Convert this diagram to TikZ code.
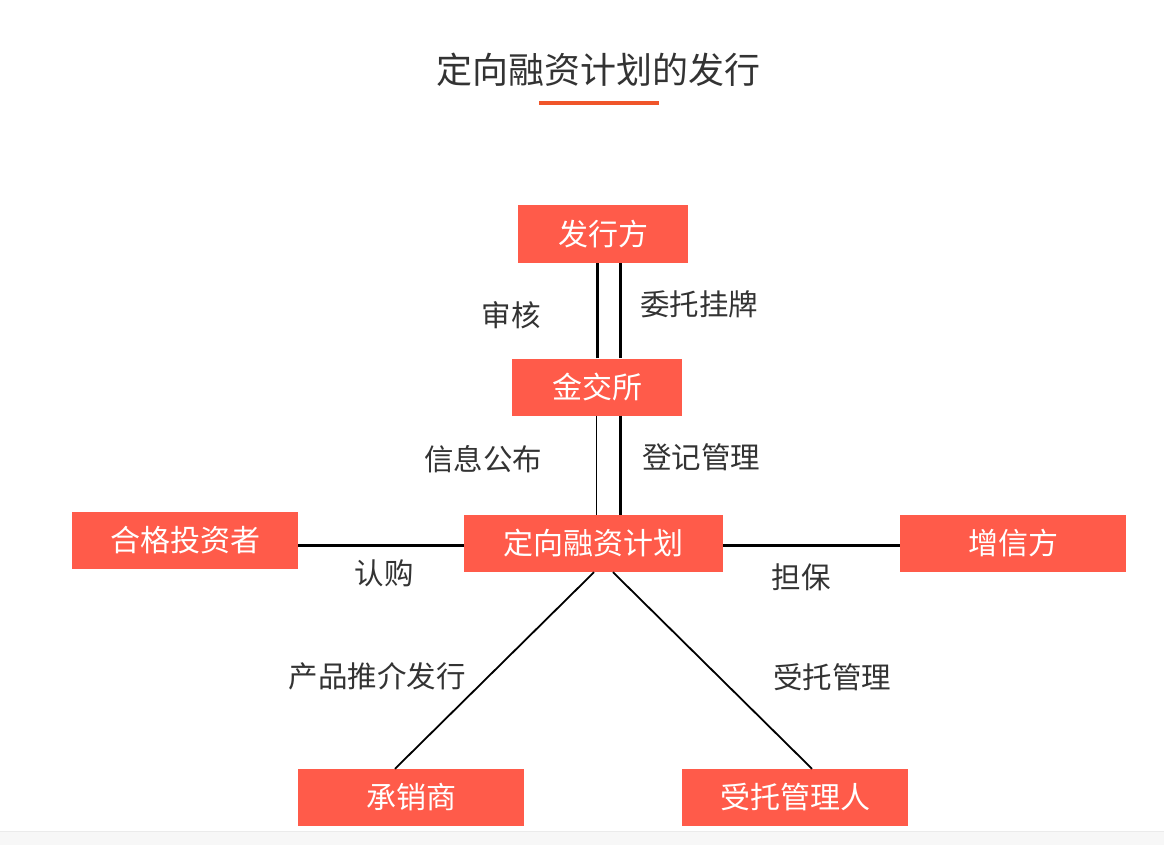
\documentclass[tikz,border=0pt]{standalone}
\usepackage{fontspec}
\usepackage{tikz}
\usetikzlibrary{calc}
\newfontfamily\cjk{Noto Sans CJK SC}
\definecolor{boxred}{HTML}{FF5B4A}
\definecolor{ink}{HTML}{333333}
\definecolor{rule}{HTML}{F0552A}
\definecolor{foot}{HTML}{F7F7F7}
\tikzset{
  box/.style={fill=boxred,text=white,inner sep=0pt,minimum height=57,
    font=\cjk\fontsize{30}{34}\selectfont},
  lab/.style={text=ink,inner sep=0pt,font=\cjk\fontsize{29.5}{34}\selectfont},
  link/.style={line width=3pt},
  slim/.style={line width=1.8pt}
}

\begin{document}
\begin{tikzpicture}[x=1pt,y=-1pt]
\useasboundingbox (0,0) rectangle (1164,845);
\fill[foot] (0,831) rectangle (1164,845);
\draw[black!8] (0,831) -- (1164,831);
% title
\node[text=ink,font=\cjk\fontsize{36}{42}\selectfont,inner sep=0pt] (title) at (598,70) {定向融资计划的发行};
\fill[rule] (539,101) rectangle (659,105);
% boxes
\node[box,minimum width=170] (fxf) at (603,234) {发行方};
\node[box,minimum width=170] (jjs) at (597,387) {金交所};
\node[box,minimum width=259] (plan) at (593.5,543.5) {定向融资计划};
\node[box,minimum width=226] (hg) at (185,540) {合格投资者};
\node[box,minimum width=226] (zxf) at (1013,543.5) {增信方};
\node[box,minimum width=226] (cxs) at (411,797.5) {承销商};
\node[box,minimum width=226] (stgl) at (795,797.5) {受托管理人};
% links
\coordinate (a1) at ($(jjs.north)+(0,0)$);
\coordinate (a2) at ($(jjs.north)+(23,0)$);
\draw[link] (a1) -- (a1 |- fxf.south);
\draw[link] (a2) -- (a2 |- fxf.south);
\coordinate (b1) at ($(jjs.south)+(-1,0)$);
\coordinate (b2) at ($(jjs.south)+(23,0)$);
\draw[line width=1pt] (b1) -- (b1 |- plan.north);
\draw[link] (b2) -- (b2 |- plan.north);
\draw[link] (plan.west |- 0,545.5) -- (hg.east |- 0,545.5);
\draw[link] (plan.east |- 0,545.5) -- (zxf.west |- 0,545.5);
\draw[slim] ($(plan.south)+(0.5,0)$) -- ($(cxs.north)+(-16,0)$);
\draw[slim] ($(plan.south)+(19.5,0)$) -- ($(stgl.north)+(17,0)$);
% labels
\node[lab] (l1) at (511,315) {审核};
\node[lab] (l2) at (699,304) {委托挂牌};
\node[lab] (l3) at (483,459) {信息公布};
\node[lab] (l4) at (701,457) {登记管理};
\node[lab] (l5) at (384,573) {认购};
\node[lab] (l6) at (801,577) {担保};
\node[lab] (l7) at (377,676) {产品推介发行};
\node[lab] (l8) at (832,677) {受托管理};
\end{tikzpicture}
\end{document}
